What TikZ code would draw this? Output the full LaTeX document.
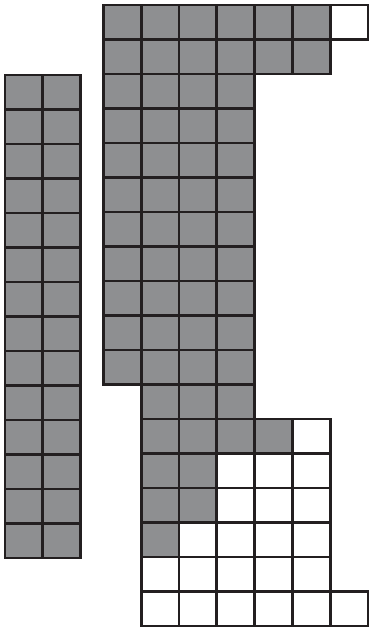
\documentclass[tikz,border=0pt]{standalone}
\usepackage{xcolor}
\definecolor{cellgray}{RGB}{142,143,145}
\definecolor{cellline}{RGB}{35,31,32}
\tikzset{
	cell/.style={draw=cellline, line width=2.8pt},
}
\newcommand{\cw}{37.86}
\newcommand{\ch}{34.5}
\begin{document}
\begin{tikzpicture}[x=1pt, y=1pt]
	\useasboundingbox (0,0) rectangle (369,635);
	% left strip
	\begin{scope}[shift={(5,560)}]
		\foreach \r in {0,...,13} {
			\foreach \c in {0,1} {
				\draw[cell, fill=cellgray] (\c*\cw, -\r*\ch) rectangle ++(\cw,-\ch);
			}
		}
	\end{scope}
	% right block: row/first col/last gray col/last col
	\begin{scope}[shift={(103.3,630)}]
		\foreach \r/\a/\g/\b in {0/0/5/6, 1/0/5/5, 2/0/3/3, 3/0/3/3, 4/0/3/3,
			5/0/3/3, 6/0/3/3, 7/0/3/3, 8/0/3/3, 9/0/3/3, 10/0/3/3, 11/1/3/3,
			12/1/4/5, 13/1/2/5, 14/1/2/5, 15/1/1/5, 16/1/0/5, 17/1/0/6} {
			\foreach \c in {\a,...,\b} {
				\ifnum\c>\g \def\cellfill{white}\else \def\cellfill{cellgray}\fi
				\draw[cell, fill=\cellfill] (\c*\cw, -\r*\ch) rectangle ++(\cw,-\ch);
			}
		}
	\end{scope}
\end{tikzpicture}
\end{document}
